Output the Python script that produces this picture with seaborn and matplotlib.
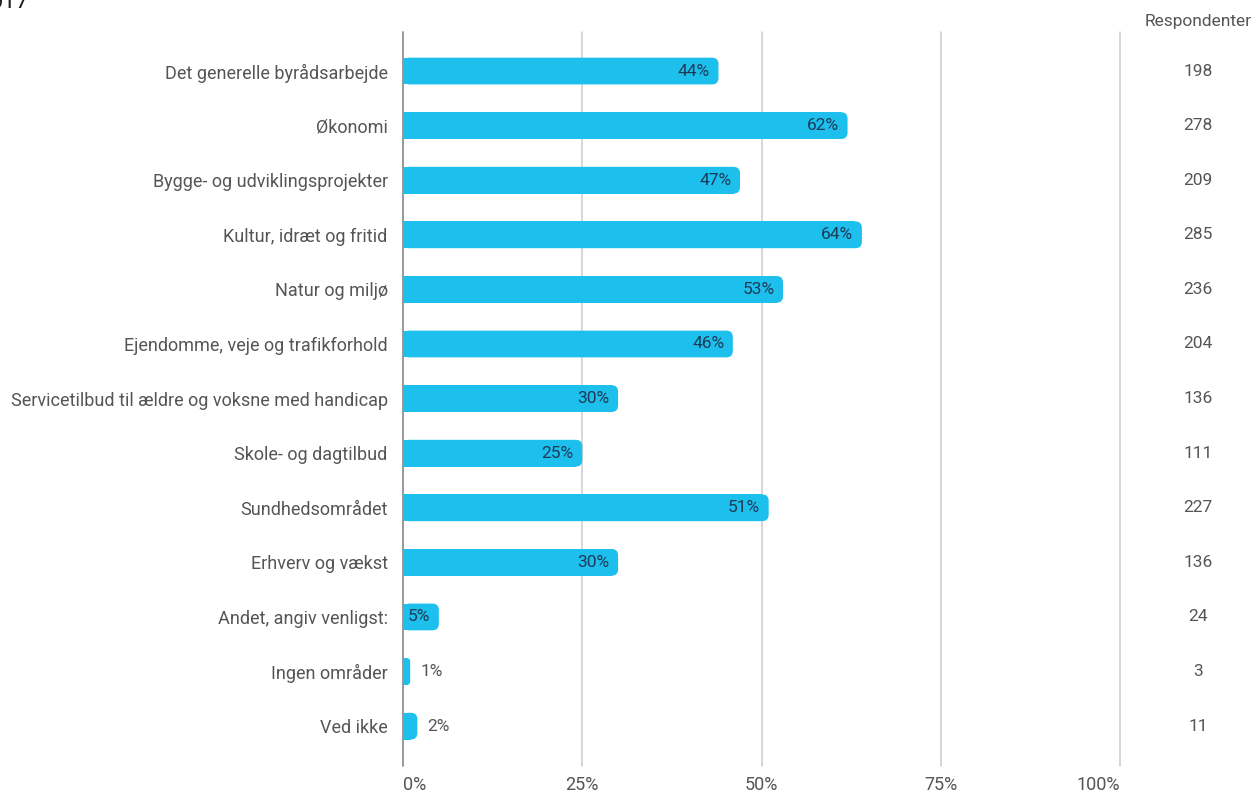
import matplotlib
matplotlib.use("Agg")
import numpy as np
import pandas as pd
import seaborn as sns
import matplotlib.pyplot as plt
from matplotlib.patches import FancyBboxPatch, Rectangle

categories = [
    "Det generelle byrådsarbejde",
    "Økonomi",
    "Bygge- og udviklingsprojekter",
    "Kultur, idræt og fritid",
    "Natur og miljø",
    "Ejendomme, veje og trafikforhold",
    "Servicetilbud til ældre og voksne med handicap",
    "Skole- og dagtilbud",
    "Sundhedsområdet",
    "Erhverv og vækst",
    "Andet, angiv venligst:",
    "Ingen områder",
    "Ved ikke",
]
percent = [44, 62, 47, 64, 53, 46, 30, 25, 51, 30, 5, 1, 2]
respondents = [198, 278, 209, 285, 236, 204, 136, 111, 227, 136, 24, 3, 11]
xticks = [0, 25, 50, 75, 100]
xtick_labels = ["0%", "25%", "50%", "75%", "100%"]

df = pd.DataFrame({"kategori": categories, "andel": percent, "n": respondents})

sns.set_style("white")
plt.rcParams["font.family"] = ["Roboto", "DejaVu Sans"]

bar_color = "#1DBFEC"
grey = "#555555"

fig = plt.figure(figsize=(12.55, 7.92), dpi=100)
ax = fig.add_axes([403 / 1255, 1 - 766 / 792, 717 / 1255, 734 / 792])

sns.barplot(data=df, x="andel", y="kategori", color=bar_color, width=0.49,
            saturation=1, ax=ax, zorder=3)

ax.set_xlim(0, 100)
ax.set_ylim(12.73, -0.715)

# rounded right ends on the bars
radius = 0.9
aspect = (717 / 100) / (734 / (12.73 + 0.715))
for p in list(ax.patches):
    x0, y0, w, h = p.get_x(), p.get_y(), p.get_width(), p.get_height()
    p.remove()
    r = min(radius, w / 2)
    ax.add_patch(FancyBboxPatch((x0, y0), w, h,
                                boxstyle=f"round,pad=0,rounding_size={r}",
                                mutation_aspect=aspect, fc=bar_color, ec="none", zorder=3))
    ax.add_patch(Rectangle((x0, y0), max(w - r, 0), h, fc=bar_color, ec="none", zorder=3))

for x in xticks:
    ax.axvline(x, color="#999999" if x == 0 else "#cccccc", lw=1.4 if x == 0 else 1.1,
               zorder=2, clip_on=False)

for i, (v, n) in enumerate(zip(percent, respondents)):
    if v >= 5:
        ax.text(v - 1.2, i, f"{v}%", ha="right", va="center", fontsize=12.5,
                color="#1d3a57", zorder=4)
    else:
        ax.text(v + 1.4, i, f"{v}%", ha="left", va="center", fontsize=12.5,
                color=grey, zorder=4)
    ax.text(110.9, i, str(n), ha="center", va="center", fontsize=12.5,
            color=grey, clip_on=False)

ax.text(110.9, -0.9, "Respondenter", ha="center", va="center", fontsize=12.5,
        color=grey, clip_on=False)

ax.set_xticks(xticks)
ax.set_xticklabels(xtick_labels, color=grey, fontsize=13)
tl = ax.get_xticklabels()
tl[0].set_ha("left")
tl[-1].set_ha("right")
ax.tick_params(axis="x", length=0, pad=7)
ax.tick_params(axis="y", length=0, pad=11, labelcolor=grey, labelsize=13)
ax.set_xlabel("")
ax.set_ylabel("")
for s in ax.spines.values():
    s.set_visible(False)

fig.text(-0.008, 1.012, "017", fontsize=17, color="#222222", ha="left", va="top")

fig.savefig("out.png", dpi=100)
